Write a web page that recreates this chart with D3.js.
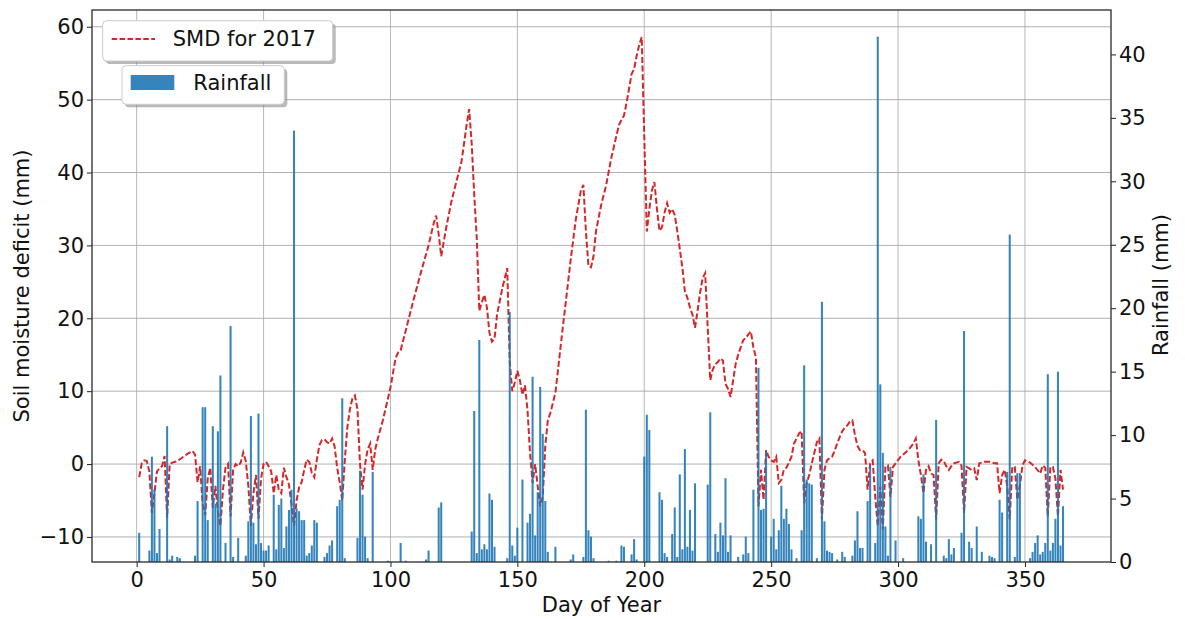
<!DOCTYPE html>
<html><head><meta charset="utf-8">
<script src="https://cdn.jsdelivr.net/npm/d3@7"></script>
<style>
body{margin:0;background:#fff}
svg{display:block}
text{font-family:"DejaVu Sans",sans-serif}
</style>
</head><body>
<svg id="chart" width="1185" height="619"></svg>
<script>
// ---- data ----
const xTicks = [0,50,100,150,200,250,300,350];
const smdTicks = [-10,0,10,20,30,40,50,60];
const rainTicks = [0,5,10,15,20,25,30,35,40];
const seriesNames = ["SMD for 2017","Rainfall"];
const axisTitles = {x:"Day of Year", left:"Soil moisture deficit (mm)", right:"Rainfall (mm)"};

// daily rainfall [day of year, mm]
const rainfall = [
[1,2.3],[5,0.9],[6,8.3],[7,5.7],[8,0.7],[9,2.6],[12,10.7],[13,0.2],[14,0.5],[16,0.4],[17,0.3],
[23,0.5],[24,4.8],[26,12.2],[27,12.2],[28,3.3],[30,10.7],[31,4.6],[32,10.3],[33,14.7],[35,1.5],
[37,18.6],[38,0.4],[40,1.9],[43,0.5],[44,3.2],[45,11.5],[46,3.1],[47,1.4],[48,11.7],[49,1.5],
[50,0.9],[51,0.9],[52,1.3],[54,5.3],[55,1.0],[56,4.5],[57,5.0],[58,1.1],[59,2.8],[60,4.1],
[61,5.7],[62,34.0],[63,4.2],[64,4.0],[65,3.3],[66,3.3],[67,0.5],[68,0.7],[69,1.3],[70,3.3],
[71,3.1],[74,0.4],[75,0.7],[76,1.3],[77,1.7],[79,4.4],[80,4.9],[81,12.9],[82,0.3],[87,1.9],
[88,7.2],[89,5.3],[90,2.0],[91,0.3],[93,7.1],[99,0.1],[104,1.5],[106,0.1],[114,0.2],[115,0.9],
[119,4.3],[120,4.7],[132,2.4],[133,11.9],[134,0.7],[135,17.5],[136,1.0],[137,1.4],[138,1.0],
[139,5.4],[140,4.9],[141,1.2],[146,0.3],[147,19.7],[148,1.3],[149,0.5],[150,2.7],[152,6.5],
[154,3.1],[155,3.8],[156,14.6],[157,2.1],[158,5.5],[159,13.8],[160,10.1],[161,4.8],[162,0.8],
[165,1.2],[171,0.2],[172,0.6],[176,0.4],[177,12.0],[178,2.5],[179,2.0],[180,0.3],[186,0.1],
[189,0.1],[191,1.3],[192,1.2],[195,0.6],[196,1.8],[197,0.2],[200,8.3],[201,11.6],[202,10.4],
[206,5.5],[207,4.9],[208,0.7],[209,0.4],[211,2.2],[212,4.3],[213,0.4],[214,6.9],[215,1.0],
[216,8.9],[217,1.2],[218,4.1],[219,0.9],[220,6.2],[225,6.1],[226,11.8],[228,2.2],[229,0.8],
[230,3.1],[231,2.1],[232,6.6],[233,0.8],[234,2.1],[237,0.4],[239,0.6],[240,2.0],[241,0.7],
[243,5.7],[245,15.3],[246,4.1],[247,4.2],[248,8.7],[250,2.0],[251,3.4],[252,1.0],[253,2.5],
[254,6.0],[255,3.4],[256,4.2],[257,3.0],[258,1.0],[260,0.3],[262,2.5],[263,15.5],[264,6.5],
[265,6.2],[266,6.1],[268,0.3],[270,20.5],[271,3.2],[272,0.9],[273,0.8],[274,0.7],[276,0.2],
[278,0.8],[279,0.4],[282,0.5],[283,1.7],[284,4.0],[285,1.1],[286,1.1],[288,4.8],[289,7.6],
[291,1.5],[292,41.4],[293,14.0],[294,8.6],[295,2.8],[296,0.5],[297,7.5],[299,1.7],[302,0.3],
[308,3.6],[309,3.4],[310,6.9],[311,1.6],[313,1.4],[315,11.2],[318,0.5],[319,0.3],[320,1.8],
[321,0.6],[322,1.1],[325,2.3],[326,18.2],[328,1.6],[329,1.1],[331,2.8],[333,0.8],[336,0.5],
[337,0.4],[338,0.3],[340,4.9],[341,3.9],[343,7.1],[344,25.8],[346,0.4],[347,7.0],[348,7.0],
[352,0.3],[353,0.8],[354,1.5],[355,2.1],[356,0.6],[357,0.8],[358,1.5],[359,14.8],[360,0.9],
[361,1.5],[362,3.4],[363,15.0],[364,1.3],[365,4.4]
];

// soil moisture deficit [day of year, mm]
const smd = [
[1,-1.8],[2,0.1],[3,0.5],[4,0.4],[5,-1.0],[6,-6.7],[7,-4.0],[8,-1.0],[9,-0.6],[10,-0.3],
[11,1.1],[12,-7.4],[13,0.0],[14,0.2],[16,0.4],[18,0.9],[20,1.4],[22,1.8],[23,1.3],[24,-2.5],
[25,-0.3],[26,-5.5],[27,-7.0],[28,-2.0],[29,-0.5],[30,-6.0],[31,-3.0],[32,-6.5],[33,-8.5],
[34,-3.5],[35,-0.5],[36,0.0],[37,-7.2],[38,-0.8],[39,0.0],[40,-0.3],[41,0.2],[42,1.6],[43,0.4],
[44,-3.0],[45,-8.5],[46,-4.0],[47,-1.5],[48,-7.5],[49,-2.0],[50,0.0],[51,0.3],[52,-0.3],
[53,-1.0],[54,-4.0],[55,-1.5],[56,-3.5],[57,-4.0],[58,-0.5],[59,-1.8],[60,-2.8],[61,-5.5],
[62,-8.5],[63,-5.0],[64,-3.2],[65,-2.5],[66,-0.8],[67,0.6],[68,0.3],[69,-1.2],[70,-1.8],
[71,0.6],[72,2.6],[73,3.3],[74,3.4],[75,3.0],[76,2.8],[77,3.5],[78,2.4],[79,-0.5],[80,-2.5],
[81,-5.0],[82,0.5],[83,5.0],[84,7.5],[85,9.0],[86,9.4],[87,7.5],[88,0.0],[89,-3.5],[90,0.0],
[91,2.0],[92,2.8],[93,-0.8],[94,2.0],[95,3.5],[97,6.0],[100,10.5],[102,14.5],[103,15.3],
[104,15.6],[106,18.3],[109,22.4],[112,26.3],[115,30.0],[117,33.0],[118,34.1],[119,31.5],
[120,28.5],[121,30.5],[122,32.5],[124,36.0],[126,38.8],[128,41.5],[130,46.5],[131,48.7],
[132,44.0],[133,37.0],[134,31.0],[135,21.0],[136,22.2],[137,23.2],[138,21.5],[139,18.0],
[140,16.8],[141,17.2],[142,20.5],[144,24.0],[146,26.9],[147,14.0],[148,10.0],[149,11.2],
[150,12.8],[151,11.5],[152,9.5],[153,10.8],[154,7.4],[155,1.5],[156,-2.6],[157,0.0],[158,-3.0],
[159,-5.8],[160,-4.5],[161,2.5],[162,6.0],[163,7.0],[165,9.8],[167,16.0],[169,22.0],[171,28.0],
[173,33.5],[175,37.5],[176,38.3],[177,32.0],[178,27.2],[179,27.0],[180,28.5],[181,32.0],
[183,35.5],[185,38.3],[187,42.0],[189,45.0],[190,46.5],[191,47.2],[192,47.8],[193,49.5],
[194,51.5],[195,53.5],[196,54.2],[197,56.0],[198,57.5],[199,58.6],[200,45.0],[201,31.9],
[202,35.0],[203,37.5],[204,38.7],[205,35.0],[206,32.0],[207,32.5],[208,34.5],[209,35.8],
[210,34.5],[211,35.0],[212,34.2],[213,32.0],[214,29.5],[215,27.0],[216,23.7],[217,22.8],
[218,21.5],[219,20.5],[220,18.7],[221,21.0],[222,23.5],[223,25.5],[224,26.2],[225,18.7],
[226,11.5],[227,13.0],[228,13.7],[229,14.0],[230,14.5],[231,14.2],[232,11.0],[233,10.3],
[234,9.2],[235,11.5],[236,13.7],[237,15.0],[238,16.0],[239,17.0],[240,17.3],[241,17.8],
[242,18.2],[243,16.0],[244,14.6],[245,-5.8],[246,-0.8],[247,-4.9],[248,1.9],[249,1.0],
[250,0.5],[251,0.3],[252,1.0],[253,-2.6],[254,-2.2],[255,-0.8],[256,-0.5],[257,0.2],[258,1.0],
[259,2.8],[260,3.5],[261,4.2],[262,4.5],[263,-5.4],[264,-2.6],[265,-1.5],[266,0.1],[267,1.5],
[268,3.0],[269,3.5],[270,-7.6],[271,-0.8],[272,0.5],[273,0.8],[274,1.0],[275,1.8],[276,2.8],
[277,3.7],[278,4.5],[279,5.0],[280,5.3],[281,5.8],[282,6.0],[283,4.0],[284,2.5],[285,1.9],
[286,1.9],[287,1.5],[288,-3.5],[289,0.1],[290,0.5],[291,-4.5],[292,-8.5],[293,-3.1],[294,-9.0],
[295,-0.4],[296,-0.2],[297,-4.5],[298,-0.4],[299,0.1],[301,1.0],[304,1.9],[306,2.8],[307,3.5],
[308,0.5],[309,-1.5],[310,-4.0],[311,-0.8],[312,-0.3],[313,-1.3],[314,-1.5],[315,-7.6],
[316,0.1],[317,0.6],[318,0.4],[319,-0.3],[320,-0.8],[321,-0.3],[322,0.1],[324,0.3],[325,-0.2],
[326,-6.7],[327,-0.4],[328,-0.6],[329,-0.8],[330,-0.6],[331,-2.2],[332,0.1],[334,0.3],[336,0.3],
[338,0.1],[339,0.1],[340,-4.0],[341,-1.5],[342,-0.8],[343,-3.0],[344,-7.6],[345,-0.4],
[346,-0.4],[347,-4.9],[348,-3.0],[349,-0.2],[350,0.5],[352,0.2],[354,-0.4],[356,-1.3],
[357,-0.2],[358,-0.5],[359,-7.2],[360,-0.4],[361,-0.4],[362,-2.0],[363,-7.2],[364,-0.8],[365,-3.5]
];

// ---- layout ----
const L=92, R=1111, T=10, B=562;
const FS = 21;
const x  = d3.scaleLinear().domain([-17.6,383.9]).range([L,R]);
const yL = d3.scaleLinear().domain([-13.44,62.3]).range([B,T]);
const yR = d3.scaleLinear().domain([0,43.5]).range([B,T]);

const svg = d3.select("#chart");
svg.append("rect").attr("width",1185).attr("height",619).attr("fill","#fff");
svg.append("defs").append("clipPath").attr("id","plot")
  .append("rect").attr("x",L).attr("y",T).attr("width",R-L).attr("height",B-T);

// grid (left axis + x axis)
const grid = svg.append("g").attr("stroke","#b0b0b0").attr("stroke-width",0.9);
grid.selectAll(".gx").data(xTicks).join("line")
  .attr("x1",d=>x(d)).attr("x2",d=>x(d)).attr("y1",T).attr("y2",B);
grid.selectAll(".gy").data(smdTicks).join("line")
  .attr("x1",L).attr("x2",R).attr("y1",d=>yL(d)).attr("y2",d=>yL(d)).attr("stroke","#a8a8a8");

// SMD line (primary axes, drawn below the twin-axes bars)
const line = d3.line().x(d=>x(d[0])).y(d=>yL(d[1]));
svg.append("path").datum(smd).attr("clip-path","url(#plot)")
  .attr("d",line).attr("fill","none").attr("stroke","#d62728")
  .attr("stroke-width",2).attr("stroke-dasharray","6,2.6");

// rainfall bars (secondary axes)
const bw = 0.8;
svg.append("g").attr("clip-path","url(#plot)").selectAll("rect").data(rainfall).join("rect")
  .attr("x",d=>x(d[0]-bw/2)).attr("width",d=>x(d[0]+bw/2)-x(d[0]-bw/2))
  .attr("y",d=>yR(d[1])).attr("height",d=>yR(0)-yR(d[1]))
  .attr("fill","#1f77b4").attr("fill-opacity",0.9);

// axes
function style(g){
  g.select(".domain").remove();
  g.selectAll(".tick line").attr("stroke","#222").attr("stroke-width",1);
  g.selectAll(".tick text").attr("fill","#111").attr("font-size",FS).attr("font-family","DejaVu Sans, sans-serif");
}
svg.append("g").attr("transform",`translate(0,${B})`)
  .call(d3.axisBottom(x).tickValues(xTicks).tickSize(5).tickPadding(5)).call(style);
svg.append("g").attr("transform",`translate(${L},0)`)
  .call(d3.axisLeft(yL).tickValues(smdTicks).tickSize(5).tickPadding(3)).call(style);
svg.append("g").attr("transform",`translate(${R},0)`)
  .call(d3.axisRight(yR).tickValues(rainTicks).tickSize(5).tickPadding(3)).call(style);

// frame
svg.append("rect").attr("x",L).attr("y",T).attr("width",R-L).attr("height",B-T)
  .attr("fill","none").attr("stroke","#2a2a2a").attr("stroke-width",1.3);

// axis titles
svg.append("text").attr("x",(L+R)/2).attr("y",611.5).attr("text-anchor","middle")
  .attr("font-size",FS).attr("fill","#111").text(axisTitles.x);
svg.append("text").attr("transform","translate(29,286) rotate(-90)").attr("text-anchor","middle")
  .attr("font-size",FS).attr("fill","#111").text(axisTitles.left);
svg.append("text").attr("transform","translate(1168,285) rotate(-90)").attr("text-anchor","middle")
  .attr("font-size",FS).attr("fill","#111").text(axisTitles.right);

// legends
function legendBox(x0,y0,w,h){
  svg.append("rect").attr("x",x0+3).attr("y",y0+3).attr("width",w).attr("height",h)
    .attr("rx",4).attr("fill","#808080").attr("opacity",0.55);
  svg.append("rect").attr("x",x0).attr("y",y0).attr("width",w).attr("height",h)
    .attr("rx",4).attr("fill","#fff").attr("stroke","#cccccc").attr("stroke-width",1);
}
legendBox(102.7,20.7,230,40.3);
svg.append("line").attr("x1",111.7).attr("x2",155).attr("y1",39).attr("y2",39)
  .attr("stroke","#d62728").attr("stroke-width",1.8).attr("stroke-dasharray","5.5,2.4");
svg.append("text").attr("x",172.7).attr("y",45.8).attr("font-size",FS).attr("fill","#111").text(seriesNames[0]);

legendBox(122,65.7,162.3,38.6);
svg.append("rect").attr("x",130.7).attr("y",75).attr("width",43.6).attr("height",15)
  .attr("fill","#1f77b4").attr("fill-opacity",0.9);
svg.append("text").attr("x",193.3).attr("y",90).attr("font-size",FS).attr("fill","#111").text(seriesNames[1]);
</script>
</body></html>
